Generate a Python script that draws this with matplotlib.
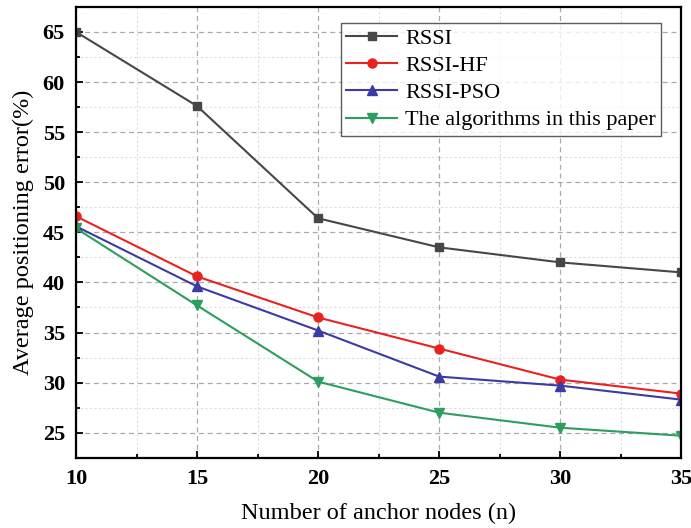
import numpy as np
import matplotlib
matplotlib.use("Agg")
import matplotlib.pyplot as plt
from matplotlib.ticker import MultipleLocator

plt.rcParams['font.family'] = ['Liberation Serif', 'DejaVu Serif']

# data
anchors = [10, 15, 20, 25, 30, 35]
rssi = [65.0, 57.6, 46.4, 43.5, 42.0, 41.0]
rssi_hf = [46.6, 40.6, 36.5, 33.4, 30.3, 28.9]
rssi_pso = [45.6, 39.6, 35.2, 30.6, 29.7, 28.3]
ours = [45.4, 37.7, 30.1, 27.0, 25.5, 24.7]
labels = ["RSSI", "RSSI-HF", "RSSI-PSO", "The algorithms in this paper"]

fig = plt.figure(figsize=(6.91, 5.28), dpi=100)
ax = fig.add_axes([0.110, 0.133, 0.876, 0.854])

ax.plot(anchors, rssi, color="#474747", marker="s", ms=6, lw=1.5, label=labels[0])
ax.plot(anchors, rssi_hf, color="#e8231f", marker="o", ms=6.5, lw=1.5, label=labels[1])
ax.plot(anchors, rssi_pso, color="#3b3ba6", marker="^", ms=6.5, lw=1.5, label=labels[2])
ax.plot(anchors, ours, color="#2e9e5e", marker="v", ms=6.5, lw=1.5, label=labels[3])

ax.set_xlim(10, 35)
ax.set_ylim(22.5, 67.5)
ax.xaxis.set_major_locator(MultipleLocator(5))
ax.xaxis.set_minor_locator(MultipleLocator(2.5))
ax.yaxis.set_major_locator(MultipleLocator(5))
ax.yaxis.set_minor_locator(MultipleLocator(2.5))

ax.grid(which="major", color="#aaaaaa", ls=(0, (4, 3)), lw=0.9)
ax.grid(which="minor", color="#dddddd", ls=(0, (2, 2)), lw=0.8)
ax.set_axisbelow(True)

ax.tick_params(which="both", direction="in", width=1.3)
ax.tick_params(which="major", length=5, labelsize=16, pad=8)
ax.tick_params(which="minor", length=3)
for lab in ax.get_xticklabels() + ax.get_yticklabels():
    lab.set_fontweight("bold")
for sp in ax.spines.values():
    sp.set_linewidth(1.6)

ax.set_xlabel("Number of anchor nodes (n)", fontsize=17.5, labelpad=10)
ax.set_ylabel("Average positioning error(%)", fontsize=17.5, labelpad=6)

leg = ax.legend(loc="upper right", fontsize=16, frameon=True, fancybox=False,
                edgecolor="#333333", handlelength=2.3, borderpad=0.25,
                labelspacing=0.3, handletextpad=0.35, borderaxespad=0,
                bbox_to_anchor=(0.967, 0.965))
leg.get_frame().set_linewidth(1.0)

fig.savefig("out.png", dpi=100)
